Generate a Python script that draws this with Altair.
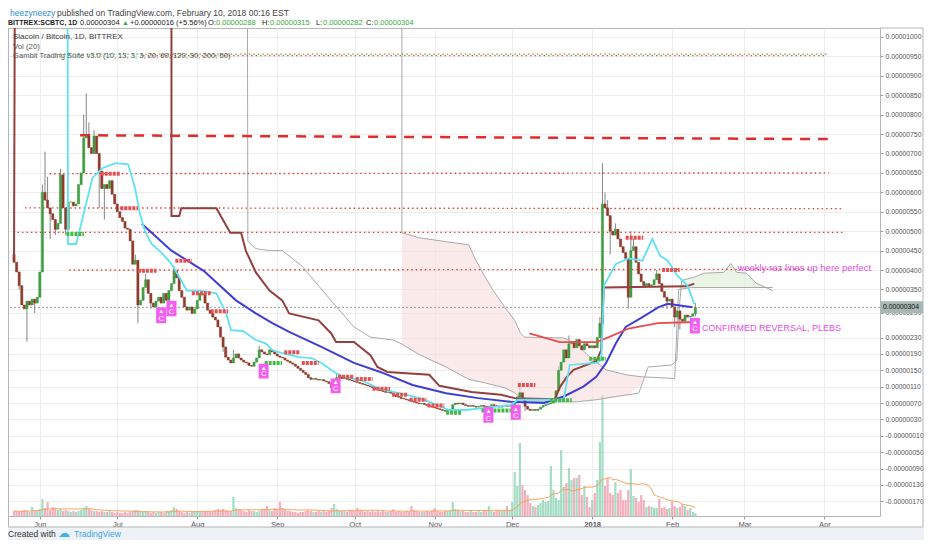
import json
import altair as alt
import pandas as pd

# ---------------- data (prices in satoshi = 1e-8 BTC), day 0 = 2017-05-22 ----------------
first_open = 440
close_may = [420, 395, 360, 310, 300, 320, 310, 325, 315, 330]
close_jun = [395, 600, 580, 560, 545, 530, 505, 520, 645, 560, 505, 575, 575, 565, 570,
             620, 650, 740, 745, 715, 700, 745, 700, 655, 610, 620, 610, 630, 595, 570]
close_jul = [550, 535, 525, 508, 505, 475, 415, 425, 310, 322, 355, 375, 340, 315, 305, 320,
             330, 315, 340, 322, 347, 365, 398, 380, 347, 330, 305, 297, 305, 289, 300]
close_aug = [322, 340, 336, 315, 297, 289, 280, 273, 256, 231, 207, 182, 175, 168, 180, 190,
             180, 175, 170, 168, 162, 160, 170, 180, 200, 195, 190, 188, 200, 195, 190]
close_sep = [185, 182, 180, 175, 172, 168, 165, 160, 155, 150, 145, 140, 132, 128, 130, 128,
             126, 127, 124, 122, 118, 108, 120, 132, 135, 130, 132, 128, 126, 124]
close_oct = [122, 120, 118, 116, 114, 112, 110, 107, 104, 102, 100, 98, 96, 97, 94, 90,
             86, 84, 81, 80, 78, 76, 74, 72, 70, 68, 69, 66, 64, 62, 60]
close_nov = [58, 56, 54, 52, 50, 52, 55, 66, 70, 68, 70, 66, 64, 62, 64, 62, 60, 62, 64, 62,
             60, 62, 66, 64, 62, 60, 63, 65, 62, 64]
close_dec = [66, 70, 85, 95, 78, 62, 55, 52, 54, 52, 55, 60, 64, 66, 68, 70, 80, 100, 150, 170,
             200, 180, 215, 220, 205, 225, 210, 200, 215, 210, 205]
close_jan = [210, 205, 230, 265, 570, 560, 540, 500, 490, 505, 480, 460, 445, 430, 330, 450,
             460, 420, 390, 370, 360, 365, 360, 362, 375, 390, 365, 345, 330, 320, 325]
close_feb = [305, 280, 295, 275, 270, 285, 280, 282, 288, 304]

vol_may = [5, 5, 4, 5, 6, 5, 4, 9, 6, 5]
vol_jun = [7, 17, 8, 14, 6, 9, 8, 6, 7, 5, 6, 5, 4, 5, 4, 5, 6, 8, 10, 7, 6, 5, 5, 4, 5, 4, 4, 5, 4, 3]
vol_jul = [4, 3, 3, 4, 3, 4, 5, 6, 6, 5, 4, 5, 4, 3, 4, 3, 4, 4, 3, 5, 5, 6, 9, 7, 5, 4, 3, 4, 3, 4, 5]
vol_aug = [4, 5, 4, 5, 5, 4, 5, 6, 7, 6, 7, 6, 5, 5, 19, 8, 7, 6, 5, 4, 6, 5, 5, 4, 5, 6, 7, 10, 6, 5, 8]
vol_sep = [6, 14, 8, 6, 5, 5, 4, 4, 3, 4, 4, 5, 6, 5, 4, 4, 5, 4, 5, 4, 5, 8, 12, 7, 6, 5, 5, 4, 6, 5]
vol_oct = [5, 8, 6, 5, 4, 5, 4, 5, 4, 5, 4, 5, 4, 4, 5, 7, 4, 5, 4, 4, 5, 4, 10, 6, 5, 4, 4, 4, 5, 4, 6]
vol_nov = [8, 5, 4, 4, 5, 5, 6, 14, 7, 6, 5, 5, 4, 4, 5, 4, 4, 5, 4, 5, 6, 10, 5, 4, 5, 6, 5, 6, 10, 6]
vol_dec = [14, 44, 30, 73, 31, 26, 21, 13, 10, 9, 11, 13, 16, 14, 15, 50, 26, 18, 16, 66, 29, 33,
           48, 36, 38, 38, 41, 21, 30, 19, 9]
vol_jan = [16, 23, 36, 74, 121, 30, 38, 23, 21, 34, 23, 26, 16, 16, 26, 47, 20, 18, 14, 21, 16, 9,
           10, 9, 8, 8, 17, 8, 9, 7, 8]
vol_feb = [14, 10, 8, 9, 12, 10, 6, 8, 4, 3]

wick_high = {0: 450, 11: 620, 12: 705, 13: 640, 18: 660, 27: 800, 28: 855, 29: 780, 31: 760,
             46: 440, 47: 440, 51: 390, 62: 410, 85: 200, 95: 210, 125: 140, 196: 110, 211: 160,
             215: 235, 227: 280, 228: 675, 229: 600, 230: 580, 233: 520, 239: 500, 240: 480,
             249: 400, 264: 315}
wick_low = {2: 350, 5: 220, 8: 290, 14: 480, 16: 490, 20: 490, 33: 560, 35: 530, 48: 265,
            53: 300, 81: 195, 123: 100, 198: 50, 231: 440, 238: 300, 253: 300, 256: 255,
            258: 250, 264: 282}

# indicator lines (day, value)
cyan_day = [20.6, 20.9, 24.1, 27.9, 30.4, 34.2, 39.3, 44.2, 46.9, 48.8, 50.7, 53.3, 57.1, 61.0,
            64.8, 67.0, 72.4, 78.4, 82.2, 84.1, 88.7, 93.7, 97.5, 100.1, 103.9, 110.4, 115.3,
            119.1, 122.9, 124.8, 127.9, 134.3, 137.0, 140.8, 146.9, 152.2, 157.1, 162.1, 168.6,
            175.0, 182.6, 192.5, 195.2, 213.0, 215.3, 225.6, 227.5, 228.6, 233.2, 238.1, 243.5,
            247.3, 250.3, 253.3, 257.1, 260.9, 263.6]
cyan_val = [2000, 467, 467, 570, 637, 662, 675, 672, 611, 544, 501, 467, 445, 416,
            373, 347, 347, 340, 289, 248, 246, 224, 216, 199, 192, 182, 180,
            168, 151, 143, 134, 126, 119, 107, 97, 90, 82, 70, 53,
            53, 58, 65, 78, 78, 163, 168, 175, 360, 416, 430, 424,
            480, 437, 424, 385, 360, 313]
brown_day = [0.0, 0.7, 61.0, 61.0, 64.0, 64.8, 78.4, 83.8, 88.0, 89.8, 93.7, 99.0, 103.9, 106.6,
             118.0, 122.9, 124.8, 131.7, 138.1, 140.8, 144.6, 160.9, 164.8, 177.3, 188.7, 194.0,
             209.5, 211.5, 214.2, 216.8, 225.6, 227.5, 228.5, 260.6, 263.6]
brown_val = [432, 2000, 2000, 539, 539, 559, 559, 496, 496, 450, 394, 347, 322, 289,
             272, 240, 219, 219, 187, 158, 146, 139, 112, 97, 90, 82,
             79, 109, 134, 151, 172, 199, 355, 358, 365]
blue_day = [49.5, 61.0, 73.5, 86.0, 93.7, 100.1, 106.6, 119.1, 131.7, 141.9, 154.4, 167.4, 179.9,
            192.5, 205.4, 213.0, 220.6, 225.6, 229.4, 233.2, 237.0, 243.5, 249.6, 253.3, 258.7, 262.9]
blue_val = [519, 450, 398, 322, 289, 265, 244, 207, 168, 146, 114, 94, 82,
            73, 70, 86, 110, 134, 168, 216, 256, 280, 304, 313, 308, 304]
red_day = [199.7, 211.5, 225.6, 230.5, 238.1, 249.5, 263.6]
red_val = [240, 219, 219, 231, 252, 265, 268]
spanA_day = [150.3, 150.3, 157.1, 167.4, 176.2, 178.8, 182.6, 185.7, 190.2, 194.0, 196.3, 197.8,
             213.0, 218.0, 221.8, 229.4, 238.1, 243.5, 256.0, 257.5, 262.5, 294.0]
spanA_val = [2000, 496, 483, 473, 465, 427, 381, 347, 304, 272, 240, 231,
             229, 214, 190, 151, 138, 134, 130, 350, 355, 355]
spanB_day = [90.2, 90.6, 93.7, 99.0, 103.9, 111.5, 122.9, 131.7, 138.1, 146.9, 150.3, 157.1,
             167.4, 176.2, 182.6, 190.2, 194.0, 196.3, 197.8, 218.0, 225.6, 233.2, 242.0, 243.5,
             245.7, 254.9, 256.8, 257.9, 258.7, 263.6, 267.4, 275.0, 277.7, 280.0, 283.8, 287.6, 294.0]
spanB_val = [2000, 474, 455, 450, 450, 411, 321, 256, 231, 224, 214, 188,
             158, 128, 119, 107, 95, 82, 73, 73, 78, 86, 94, 119,
             158, 163, 175, 313, 373, 382, 392, 394, 417, 394, 392, 366, 347]
pink_day = [150.3, 157.1, 167.4, 176.2, 178.8, 182.6, 185.7, 190.2, 194.0, 196.3, 197.8, 213.0,
            218.0, 221.8, 229.4, 238.1, 243.5]
pink_top = [496, 483, 473, 465, 427, 381, 347, 304, 272, 240, 231, 229, 214, 190, 151, 138, 134]
pink_bot = [214, 188, 158, 128, 125, 119, 115, 107, 95, 82, 73, 73, 73, 75, 80, 90, 119]
green_day = [258.7, 263.6, 267.4, 275.0, 277.7, 280.0, 283.8, 287.6, 292.0]
green_top = [373, 382, 392, 394, 417, 394, 392, 366, 352]
green_bot = [355, 355, 355, 355, 355, 355, 355, 355, 355]

# resistance (red dotted) levels: start day, end day, value at start, value at end
lvl_start = [13.8, 4.3, 1.3, 21.4]
lvl_end = [315.7, 320.6, 321.8, 309.2]
lvl_v0 = [648, 560, 497, 400]
lvl_v1 = [650, 558, 497, 402]
top_start = [16.0, 50.0]
top_end = [315.0, 315.0]
top_val = [956, 952]
top_kind = ["sup", "res"]
dash_start, dash_end, dash_v0, dash_v1 = 25.6, 315.3, 747, 737

# short markers
mk_start = [33.6, 41.2, 48.0, 62.5, 68.9, 76.2, 104.7, 111.5, 125.6, 132.4, 138.9, 146.5, 153.3,
            160.2, 195.2, 237.0, 251.1,
            20.3, 97.1, 167.4, 181.1, 207.7, 222.9]
mk_end = [41.2, 48.0, 55.2, 68.9, 76.2, 83.0, 110.8, 118.0, 131.7, 138.9, 145.7, 152.6, 159.8,
          166.7, 202.0, 243.8, 257.9,
          27.1, 103.9, 173.5, 192.5, 216.1, 229.4]
mk_val = [648, 559, 398, 424, 340, 294, 194, 168, 134, 129, 105, 90, 78, 64, 114, 483, 400,
          493, 168, 46, 52, 77, 178]
mk_kind = ["res"] * 17 + ["sup"] * 6

# "A/C" signal labels
ac_day = [57.0, 61.0, 96.7, 124.6, 183.8, 194.4, 263.8]
ac_top = [304, 321, 166, 130, 60, 66, 278]
ac_bot = [265, 282, 130, 94, 22, 29, 240]

month_day = [10, 40, 71, 102, 132, 163, 193, 224, 255, 283, 314]
month_lbl = ["Jun", "Jul", "Aug", "Sep", "Oct", "Nov", "Dec", "2018", "Feb", "Mar", "Apr"]
price_ticks = [1000, 950, 900, 850, 800, 750, 700, 650, 600, 550, 500, 450, 400, 350, 290, 230,
               190, 150, 110, 70, 30, -10, -50, -90, -130, -170]

# ---------------- build tables ----------------
closes = close_may + close_jun + close_jul + close_aug + close_sep + close_oct + close_nov + close_dec + close_jan + close_feb
vols = vol_may + vol_jun + vol_jul + vol_aug + vol_sep + vol_oct + vol_nov + vol_dec + vol_jan + vol_feb
opens = [first_open] + closes[:-1]
UP, DN = "#3f9d42", "#8e3b2c"
VUP, VDN = "#8fd3b5", "#f39cad"
rows = []
for d, (o, c, v) in enumerate(zip(opens, closes, vols)):
    up = c >= o
    rows.append(dict(day=d, high=max(o, c, wick_high.get(d, c)), low=min(o, c, wick_low.get(d, c)),
                     blo=min(o, c), bhi=max(o, c), vol=v,
                     col=UP if up else DN, vcol=VUP if up else VDN))
cd = pd.DataFrame(rows)

W, H = 872, 488
YMIN, YMID, YMAX = -206, 300, 1023
YMID_PX = 280.9
VOL_K = (YMID - YMIN) / (H - YMID_PX)   # price units per pixel in the lower part (volume pane)
XS = alt.Scale(domain=[-0.4, 333.6], nice=False, zero=False)
YS = alt.Scale(domain=[YMIN, YMID, YMAX], range=[H, YMID_PX, 0], nice=False, zero=False)
FONT = "Liberation Sans"
ONE = pd.DataFrame({"k": [0]})

xaxis = alt.Axis(values=month_day, title=None, grid=True, gridColor="#ededed", domain=False,
                 tickSize=3, tickColor="#999", labelFontSize=7.6, labelColor="#555", labelPadding=1,
                 labelFont=FONT,
                 labelExpr=json.dumps(month_lbl) + "[indexof(" + json.dumps(month_day) + ", datum.value)]",
                 labelFontWeight={"condition": {"test": "datum.value == 224", "value": "bold"}, "value": "normal"})
yaxis = alt.Axis(orient="right", values=price_ticks, title=None, grid=True, gridColor="#ededed",
                 domain=False, tickSize=3, tickColor="#999", labelFontSize=6.8, labelColor="#555",
                 labelPadding=2, labelFont=FONT,
                 labelExpr="replace(format(datum.value / 100000000, '.8f'), '\u2212', '-')")


def X(f="day"):
    return alt.X(f + ":Q", scale=XS, axis=xaxis)


def Y(f):
    return alt.Y(f + ":Q", scale=YS, axis=yaxis)


def XD(v):
    return alt.X(datum=v, scale=XS, axis=xaxis)


def YD(v):
    return alt.Y(datum=v, scale=YS, axis=yaxis)


def series(days, vals):
    return pd.DataFrame({"day": days, "v": vals, "i": list(range(len(days)))})


def line(days, vals, color, width, **kw):
    return alt.Chart(series(days, vals)).mark_line(color=color, strokeWidth=width, clip=True, **kw).encode(
        x=X(), y=Y("v"), order="i:Q")


def txt(s, x, y, size=8, color="#333", weight="normal", align="left"):
    return alt.Chart(ONE).mark_text(text=s, x=x, y=y, fontSize=size, color=color, fontWeight=weight,
                                    align=align, baseline="middle", font=FONT)


# volume pane (drawn in the lower part of the price pane)
vol_bars = alt.Chart(cd).transform_calculate(
    vt=f"{YMIN} + datum.vol * {VOL_K}", vb=f"{YMIN}").mark_bar(size=2.2, opacity=0.8).encode(
    x=X(), y=Y("vt"), y2="vb:Q", color=alt.Color("vcol:N", scale=None, legend=None))
vol_ma = alt.Chart(cd).transform_window(vma="mean(vol)", frame=[-19, 0], sort=[{"field": "day"}]).transform_calculate(
    vm=f"{YMIN} + datum.vma * {VOL_K}").mark_line(color="#f5a35f", strokeWidth=1).encode(x=X(), y=Y("vm"))

# clouds
pink = alt.Chart(pd.DataFrame({"day": pink_day, "t": pink_top, "b": pink_bot})).mark_area(
    color="#f9dcdc", opacity=0.6).encode(x=X(), y=Y("t"), y2="b:Q")
green = alt.Chart(pd.DataFrame({"day": green_day, "t": green_top, "b": green_bot})).mark_area(
    color="#dff0da", opacity=0.7).encode(x=X(), y=Y("t"), y2="b:Q")
spanA = line(spanA_day, spanA_val, "#a9a9a9", 1)
spanB = line(spanB_day, spanB_val, "#a9a9a9", 1)

# levels
lv = pd.DataFrame({"s": lvl_start, "e": lvl_end, "v0": lvl_v0, "v1": lvl_v1})
levels = alt.Chart(lv).mark_rule(color="#e53a3a", strokeWidth=1.4, strokeDash=[1.5, 3]).encode(
    x=X("s"), x2="e:Q", y=Y("v0"), y2="v1:Q")
tp = pd.DataFrame({"s": top_start, "e": top_end, "v": top_val, "k": top_kind})
toplv = alt.Chart(tp).mark_rule(strokeWidth=1.2, strokeDash=[1.5, 3]).encode(
    x=X("s"), x2="e:Q", y=Y("v"),
    color=alt.Color("k:N", scale=alt.Scale(domain=["sup", "res"], range=["#45b845", "#e65050"]), legend=None))
dash = alt.Chart(pd.DataFrame({"s": [dash_start], "e": [dash_end], "v0": [dash_v0], "v1": [dash_v1]})).mark_rule(
    color="#e32b2b", strokeWidth=2.5, strokeDash=[10, 8]).encode(x=X("s"), x2="e:Q", y=Y("v0"), y2="v1:Q")
last_close = closes[-1]
cur = alt.Chart(ONE).mark_rule(color="#9a9a9a", strokeWidth=1, strokeDash=[2, 2]).encode(y=YD(last_close))

# candles
wicks = alt.Chart(cd).mark_rule(color="#666", strokeWidth=0.8).encode(x=X(), y=Y("low"), y2="high:Q")
bodies = alt.Chart(cd).mark_bar(size=2.2, strokeWidth=0.5).encode(
    x=X(), y=Y("blo"), y2="bhi:Q", color=alt.Color("col:N", scale=None, legend=None),
    stroke=alt.Stroke("col:N", scale=None, legend=None))

blue = line(blue_day, blue_val, "#3e3ed6", 2)
red = line(red_day, red_val, "#ec4a4a", 1.8)
brown = line(brown_day, brown_val, "#93403f", 2)
cyan = line(cyan_day, cyan_val, "#5fe2f2", 1.8)

mk = pd.DataFrame({"s": mk_start, "e": mk_end, "v": mk_val, "k": mk_kind})
markers = alt.Chart(mk).mark_rule(strokeWidth=4, strokeDash=[3, 1]).encode(
    x=X("s"), x2="e:Q", y=Y("v"),
    color=alt.Color("k:N", scale=alt.Scale(domain=["sup", "res"], range=["#3f9f3f", "#f04848"]), legend=None))

ac = pd.DataFrame({"day": ac_day, "t": ac_top, "b": ac_bot})
ac_box = alt.Chart(ac).mark_bar(size=10, color="#f25ef0").encode(x=X(), y=Y("t"), y2="b:Q")
ac_a = alt.Chart(ac).mark_text(text="\u25b2", color="white", fontSize=6, dy=4, baseline="middle").encode(
    x=X(), y=Y("t"))
ac_c = alt.Chart(ac).mark_text(text="C", color="white", fontSize=7.5, dy=-4, baseline="middle", font=FONT).encode(
    x=X(), y=Y("b"))

note1 = alt.Chart(ONE).mark_text(text="weekly rez lines up here perfect", color="#e44ce4", fontSize=9.5,
                                 align="left", baseline="middle", font=FONT).encode(x=XD(280.3), y=YD(405))
note2 = alt.Chart(ONE).mark_text(text="CONFIRMED REVERSAL, PLEBS", color="#e44ce4", fontSize=9,
                                 align="left", baseline="middle", font=FONT).encode(x=XD(266.6), y=YD(253))

# last price tag on axis
tag = alt.Chart(ONE).mark_rect(color="#a8b7b4", yOffset=-6, y2Offset=6).encode(
    x=alt.value(W + 1), x2=alt.value(W + 43), y=YD(last_close), y2=alt.Y2(datum=last_close))
tag_t = alt.Chart(ONE).mark_text(text=f"{last_close / 1e8:.8f}", color="#111", fontSize=6.8, align="left",
                                 baseline="middle", font=FONT).encode(x=alt.value(W + 3), y=YD(last_close))

# frame / footer
band = alt.Chart(ONE).mark_rect(color="#eef1f6").encode(
    x=alt.value(-2), x2=alt.value(W + 46), y=alt.value(499), y2=alt.value(530))
frame_r = alt.Chart(ONE).mark_rule(color="#b5b5b5").encode(x=alt.value(W + 43), y=alt.value(0), y2=alt.value(499))
frame_b = alt.Chart(ONE).mark_rule(color="#b5b5b5").encode(x=alt.value(0.5), x2=alt.value(W + 43), y=alt.value(499))
frame_t = alt.Chart(ONE).mark_rule(color="#b5b5b5").encode(x=alt.value(W), x2=alt.value(W + 43), y=alt.value(0))
frame_l = alt.Chart(ONE).mark_rule(color="#b5b5b5").encode(x=alt.value(0.5), y=alt.value(0), y2=alt.value(499))

o, h, l, c = opens[-1], 315, 282, closes[-1]
chg = c - opens[-1]
texts = [
    txt("Siacoin / Bitcoin, 1D, BITTREX", 5, 9, 8, "#3a3a3a"),
    txt("Vol (20)", 5, 18.5, 7.8, "#555"),
    txt("Gambit Trading Suite v3.0 (10, 13, 3, 3, 20, 60, 120, 30, 200, 50)", 5, 28, 7.6, "#555"),
    txt("heezyneezy", 2, -15, 8.5, "#2c8ed8"),
    txt("published on TradingView.com, February 10, 2018 00:16 EST", 49, -15, 8.5, "#444"),
    txt("BITTREX:SCBTC, 1D", 0, -5, 7, "#222", "bold"),
    txt(f"{c / 1e8:.8f}", 72, -5, 7.5, "#222"),
    txt("\u25b2", 114, -5, 7, "#3aa83a"),
    txt(f"+{chg / 1e8:.8f} (+{chg / o * 100:.2f}%)", 122, -5, 7.5, "#222"),
    txt("O:", 200, -5, 7.5, "#222"), txt(f"{o / 1e8:.8f}", 208, -5, 7.5, "#3aa83a"),
    txt("H:", 254, -5, 7.5, "#222"), txt(f"{h / 1e8:.8f}", 262, -5, 7.5, "#3aa83a"),
    txt("L:", 308, -5, 7.5, "#222"), txt(f"{l / 1e8:.8f}", 315, -5, 7.5, "#3aa83a"),
    txt("C:", 358, -5, 7.5, "#222"), txt(f"{c / 1e8:.8f}", 366, -5, 7.5, "#3aa83a"),
    txt("Created with", 0, 506, 8.5, "#333"),
    txt("\u2601", 50, 505, 12, "#41b4e6"),
    txt("TradingView", 66, 506, 8.5, "#3aa8e0"),
]

chart = alt.layer(
    wicks, vol_bars, vol_ma, pink, green, spanA, spanB, levels, toplv, dash, cur, bodies, blue, red,
    brown, cyan, markers, ac_box, ac_a, ac_c, note1, note2, tag, band, frame_r, frame_b, frame_t,
    frame_l, tag_t, *texts
).properties(
    width=W, height=H,
    autosize=alt.AutoSizeParams(type="none"),
    padding={"left": 0, "top": 20, "right": 44, "bottom": 24},
    background="white",
).configure_view(stroke="#b5b5b5", strokeWidth=1).configure_text(font=FONT)

chart.save("out.html", embed_options={"renderer": "svg", "actions": False})
